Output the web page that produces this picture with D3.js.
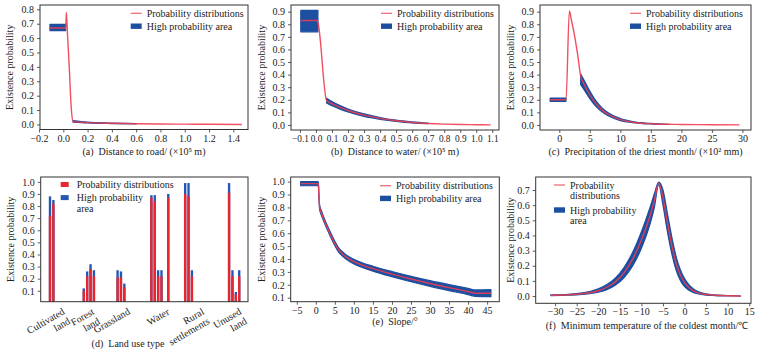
<!DOCTYPE html>
<html><head><meta charset="utf-8">
<script src="https://cdn.jsdelivr.net/npm/d3@7"></script>
<style>body{margin:0;background:#fff}svg{display:block}</style>
</head><body><svg id="c" width="758" height="355"></svg>
<script>
// ---------- DATA ----------
// (a) Distance to road
const roadX  = [-0.11, 0.02, 0.025, 0.035, 0.05, 0.065, 0.08, 0.1, 0.2, 0.4, 0.6, 0.8, 1.0, 1.2, 1.47];
const roadP  = [0.67, 0.67, 0.78, 0.62, 0.38, 0.12, 0.022, 0.018, 0.013, 0.008, 0.005, 0.003, 0.002, 0.001, 0.0];
const roadBandX  = [-0.11, 0.02, null, 0.08, 0.2, 0.4, 0.6];
const roadBandLo = [0.652, 0.652, null, 0.016, 0.010, 0.006, 0.004];
const roadBandHi = [0.695, 0.695, null, 0.026, 0.016, 0.010, 0.006];
// (b) Distance to water
const waterX = [-0.095, 0.005, 0.012, 0.066, 0.1, 0.15, 0.2, 0.3, 0.4, 0.5, 0.6, 0.7, 0.8, 0.9, 1.0, 1.09];
const waterP = [0.83, 0.83, 0.815, 0.195, 0.17, 0.14, 0.115, 0.078, 0.052, 0.033, 0.02, 0.012, 0.007, 0.004, 0.002, 0.001];
const waterBandX  = [-0.095, 0.012, null, 0.066, 0.1, 0.15, 0.2, 0.3, 0.4, 0.5, 0.6, 0.7];
const waterBandLo = [0.74, 0.74, null, 0.175, 0.153, 0.126, 0.103, 0.068, 0.045, 0.028, 0.016, 0.010];
const waterBandHi = [0.91, 0.91, null, 0.212, 0.186, 0.154, 0.127, 0.088, 0.059, 0.038, 0.024, 0.014];
// (c) Precipitation of the driest month
const precX = [-1.5, 1.1, 1.65, 2.0, 2.5, 3.0, 3.5, 4, 5, 6, 7, 8, 9, 10, 12, 15, 20, 25, 29.5];
const precP = [0.2, 0.2, 0.905, 0.83, 0.71, 0.56, 0.39, 0.33, 0.24, 0.17, 0.12, 0.085, 0.06, 0.042, 0.022, 0.01, 0.004, 0.002, 0.001];
const precBandX  = [-1.5, 1.1, null, 3.5, 4, 5, 6, 7, 8, 10, 12, 15, 18];
const precBandLo = [0.188, 0.188, null, 0.32, 0.285, 0.21, 0.148, 0.104, 0.073, 0.035, 0.018, 0.008, 0.004];
const precBandHi = [0.214, 0.214, null, 0.405, 0.36, 0.27, 0.192, 0.136, 0.097, 0.05, 0.027, 0.012, 0.005];
// (d) Land use type
const landCodes = [11, 12, 21, 22, 23, 24, 31, 32, 33, 41, 42, 43, 44, 46, 51, 52, 53, 64, 65, 66, 67];
const landProb  = [0.72, 0.82, 0.10, 0.22, 0.28, 0.22, 0.21, 0.21, 0.13, 0.87, 0.84, 0.22, 0.22, 0.87, 0.90, 0.88, 0.22, 0.91, 0.22, 0.07, 0.22];
const landHigh  = [0.88, 0.85, 0.12, 0.26, 0.32, 0.27, 0.27, 0.26, 0.16, 0.89, 0.89, 0.27, 0.27, 0.90, 0.99, 0.99, 0.27, 0.99, 0.27, 0.09, 0.27];
const landLabels = [["Cultivated","land"],["Forest","land"],["Grassland"],["Water"],["Rural","settlements"],["Unused","land"]];
const landLabelRight = [17.5, 26.3, 35.2, 47.0, 58.8, 69.8];
// (e) Slope
const slopeX = [-4, 0.66, 0.8, 1, 1.5, 2, 3, 4, 5, 6, 7, 8, 10, 12, 15, 20, 25, 30, 35, 40, 42, 46];
const slopeP = [0.985, 0.985, 0.9, 0.8, 0.755, 0.715, 0.645, 0.58, 0.52, 0.47, 0.44, 0.415, 0.38, 0.355, 0.325, 0.283, 0.245, 0.21, 0.178, 0.148, 0.135, 0.135];
const slopeBandX  = [-4, 0.66, 0.8, 1, 1.5, 2, 3, 4, 5, 6, 7, 8, 10, 12, 15, 20, 25, 30, 35, 40, 42, 46];
const slopeBandLo = [0.968, 0.968, 0.88, 0.782, 0.737, 0.698, 0.628, 0.563, 0.503, 0.453, 0.423, 0.398, 0.362, 0.337, 0.306, 0.263, 0.224, 0.188, 0.155, 0.124, 0.11, 0.108];
const slopeBandHi = [1.0, 1.0, 0.92, 0.818, 0.773, 0.732, 0.662, 0.597, 0.537, 0.487, 0.457, 0.432, 0.398, 0.373, 0.344, 0.303, 0.266, 0.232, 0.201, 0.172, 0.16, 0.162];
// (f) Minimum temperature of the coldest month
const tempX = [-31, -27, -25, -22, -20, -18, -16, -14, -12, -10, -8, -7, -6, -5, -4, -3, -2, -1, 0, 1, 2, 3, 5, 7, 10, 13];
const tempP = [0.005, 0.008, 0.012, 0.022, 0.035, 0.058, 0.095, 0.155, 0.245, 0.37, 0.53, 0.63, 0.745, 0.65, 0.49, 0.34, 0.22, 0.14, 0.088, 0.056, 0.036, 0.023, 0.01, 0.005, 0.002, 0.0];
const tempBandLo = [0.003, 0.005, 0.008, 0.015, 0.025, 0.042, 0.072, 0.122, 0.2, 0.315, 0.475, 0.585, 0.735, 0.6, 0.43, 0.285, 0.175, 0.105, 0.062, 0.038, 0.024, 0.015, 0.006, 0.003, 0.001, 0.0];
const tempBandHi = [0.007, 0.011, 0.016, 0.03, 0.047, 0.076, 0.12, 0.19, 0.29, 0.425, 0.585, 0.675, 0.752, 0.7, 0.55, 0.395, 0.265, 0.175, 0.115, 0.075, 0.048, 0.031, 0.014, 0.007, 0.003, 0.0];

// tick values
const roadTicks  = [-0.2, 0, 0.2, 0.4, 0.6, 0.8, 1.0, 1.2, 1.4];
const waterTicks = [-0.1, 0, 0.1, 0.2, 0.3, 0.4, 0.5, 0.6, 0.7, 0.8, 0.9, 1.0, 1.1];
const precTicks  = [0, 5, 10, 15, 20, 25, 30];
const slopeTicks = [-5, 0, 5, 10, 15, 20, 25, 30, 35, 40, 45];
const tempTicks  = [-30, -25, -20, -15, -10, -5, 0, 5, 10, 15];
const yTicks08 = [0, 0.1, 0.2, 0.3, 0.4, 0.5, 0.6, 0.7, 0.8];
const yTicks09 = [0, 0.1, 0.2, 0.3, 0.4, 0.5, 0.6, 0.7, 0.8, 0.9];
const yTicks10 = [0.1, 0.2, 0.3, 0.4, 0.5, 0.6, 0.7, 0.8, 0.9, 1.0];
const yTicks07 = [0, 0.1, 0.2, 0.3, 0.4, 0.5, 0.6, 0.7];

// ---------- DRAWING ----------
const SERIF = "'Liberation Serif','Times New Roman',serif";
const RED = "#ef3d50", BLUE = "#1d4fa1", BAR_RED = "#e8262f", BAR_BLUE = "#2457b3", INK = "#222";
const svg = d3.select("#c");

function frameAxes(g, o, x, y, xfmt) {
  const ax = g.append("g").attr("transform", `translate(0,${o.b})`)
    .call(d3.axisBottom(x).tickValues(o.xt).tickFormat(xfmt).tickSize(3).tickPadding(2));
  const ay = g.append("g").attr("transform", `translate(${o.l},0)`)
    .call(d3.axisLeft(y).tickValues(o.yt).tickFormat(d3.format(".1f")).tickSize(3).tickPadding(3));
  [ax, ay].forEach(a => {
    a.attr("font-family", SERIF).attr("font-size", 10);
    a.select(".domain").remove();
    a.selectAll("text").attr("fill", INK);
    a.selectAll("line").attr("stroke", "#333").attr("stroke-width", 0.8);
  });
  if (o.xtfs) ax.attr("font-size", o.xtfs);
  g.append("text").attr("transform", `translate(${o.yl},${(o.t + o.b) / 2}) rotate(-90)`)
    .attr("text-anchor", "middle").attr("dominant-baseline", "central")
    .attr("font-family", SERIF).attr("font-size", 10).attr("fill", INK).text("Existence probability");
  g.append("text").attr("x", o.xlx).attr("y", o.xly).attr("text-anchor", "middle")
    .attr("dominant-baseline", "central").attr("font-family", SERIF).attr("font-size", 10)
    .attr("fill", INK).attr("xml:space", "preserve").text(o.xlabel);
}
function frameRect(g, o) {
  g.append("rect").attr("x", o.l).attr("y", o.t).attr("width", o.r - o.l).attr("height", o.b - o.t)
    .attr("fill", "none").attr("stroke", "#333").attr("stroke-width", 1);
}
function legend(g, lx, ly, lines1, ly2, lines2, patchFirst) {
  const txt = (tx, ty, t) => g.append("text").attr("x", tx).attr("y", ty).attr("dominant-baseline", "central")
      .attr("font-family", SERIF).attr("font-size", 10).attr("fill", INK).text(t);
  if (patchFirst) {
    g.append("rect").attr("x", lx).attr("y", ly - 2.5).attr("width", 8).attr("height", 5).attr("fill", BAR_RED);
    g.append("rect").attr("x", lx).attr("y", ly2 - 2.5).attr("width", 8).attr("height", 5).attr("fill", BAR_BLUE);
  } else {
    g.append("line").attr("x1", lx).attr("x2", lx + 11).attr("y1", ly).attr("y2", ly)
      .attr("stroke", RED).attr("stroke-width", 1.3).attr("opacity", 0.75);
    g.append("rect").attr("x", lx).attr("y", ly2 - 2.7).attr("width", 11).attr("height", 5.4).attr("fill", BLUE);
  }
  lines1.forEach((t, i) => txt(lx + 16, ly + i * 10.5, t));
  lines2.forEach((t, i) => txt(lx + 16, ly2 + i * 10.5, t));
}
function curvePanel(o) {
  const g = svg.append("g");
  const x = d3.scaleLinear().domain(o.xd).range([o.l, o.r]);
  const y = d3.scaleLinear().domain(o.yd).range([o.b, o.t]);
  frameAxes(g, o, x, y, o.xfmt);
  const band = o.bx.map((v, i) => ({ x: v, lo: o.blo[i], hi: o.bhi[i] }));
  g.append("path").datum(band)
    .attr("d", d3.area().defined(d => d.x !== null).curve(d3.curveMonotoneX)
      .x(d => x(d.x)).y0(d => y(d.lo)).y1(d => y(d.hi)))
    .attr("fill", BLUE).attr("stroke", BLUE).attr("stroke-width", 1.2).attr("stroke-linejoin", "round");
  const line = o.lx.map((v, i) => ({ x: v, y: o.ly[i] }));
  g.append("path").datum(line)
    .attr("d", d3.line().curve(d3.curveMonotoneX).x(d => x(d.x)).y(d => y(d.y)))
    .attr("fill", "none").attr("stroke", RED).attr("stroke-width", 1.4).attr("opacity", 0.9);
  frameRect(g, o);
  legend(g, o.legX, o.legY1, o.leg1, o.legY2, o.leg2, false);
}

const f1 = d3.format(".1f"), fd = d3.format("d");

curvePanel({ l: 40, r: 248, t: 5, b: 129.5, xd: [-0.192, 1.521], yd: [-0.035, 0.83],
  xt: roadTicks, yt: yTicks08, xfmt: f1, yl: 9.5, xlx: 144, xly: 151.7,
  xlabel: "(a)  Distance to road/ (×10⁵ m)",
  lx: roadX, ly: roadP, bx: roadBandX, blo: roadBandLo, bhi: roadBandHi,
  legX: 130.7, legY1: 13.3, leg1: ["Probability distributions"], legY2: 26.2, leg2: ["High probability area"] });

curvePanel({ l: 291, r: 499, t: 5, b: 130, xd: [-0.156, 1.142], yd: [-0.04, 0.953],
  xt: waterTicks, yt: yTicks09, xfmt: f1, xtfs: 9.3, yl: 261.5, xlx: 395, xly: 151.7,
  xlabel: "(b)  Distance to water/ (×10⁵ m)",
  lx: waterX, ly: waterP, bx: waterBandX, blo: waterBandLo, bhi: waterBandHi,
  legX: 381, legY1: 13.3, leg1: ["Probability distributions"], legY2: 26.2, leg2: ["High probability area"] });

curvePanel({ l: 540, r: 751, t: 5, b: 130, xd: [-3.16, 31.4], yd: [-0.04, 0.953],
  xt: precTicks, yt: yTicks09, xfmt: fd, yl: 510, xlx: 645.5, xly: 151.7,
  xlabel: "(c)  Precipitation of the driest month/ (×10² mm)",
  lx: precX, ly: precP, bx: precBandX, blo: precBandLo, bhi: precBandHi,
  legX: 630, legY1: 13.3, leg1: ["Probability distributions"], legY2: 26.2, leg2: ["High probability area"] });

curvePanel({ l: 290.7, r: 499.3, t: 177, b: 301.7, xd: [-6.6, 48.2], yd: [0.069, 1.036],
  xt: slopeTicks, yt: yTicks10, xfmt: fd, yl: 261.5, xlx: 395, xly: 321,
  xlabel: "(e)  Slope/°",
  lx: slopeX, ly: slopeP, bx: slopeBandX, blo: slopeBandLo, bhi: slopeBandHi,
  legX: 380, legY1: 185.7, leg1: ["Probability distributions"], legY2: 198.4, leg2: ["High probability area"] });

curvePanel({ l: 535.7, r: 751, t: 177, b: 303.3, xd: [-34.5, 15.4], yd: [-0.048, 0.786],
  xt: tempTicks, yt: yTicks07, xfmt: fd, yl: 510, xlx: 647, xly: 325,
  xlabel: "(f)  Minimum temperature of the coldest month/℃",
  lx: tempX, ly: tempP, bx: tempX, blo: tempBandLo, bhi: tempBandHi,
  legX: 554, legY1: 185, leg1: ["Probability", "distributions"], legY2: 210, leg2: ["High probability", "area"] });

// (d) bar panel
(function () {
  const o = { l: 40.7, r: 248, t: 177, b: 301.7, xd: [8.25, 69.6], yd: [0.01, 1.04], yt: yTicks10, xt: [],
    yl: 10, xlx: 128, xly: 343, xlabel: "(d)  Land use type" };
  const g = svg.append("g");
  const x = d3.scaleLinear().domain(o.xd).range([o.l, o.r]);
  const y = d3.scaleLinear().domain(o.yd).range([o.b, o.t]);
  frameAxes(g, o, x, y, fd);
  const w = x(0.7) - x(0);
  g.append("g").selectAll("rect").data(landCodes).join("rect")
    .attr("x", d => x(d) - w / 2).attr("width", w)
    .attr("y", (d, i) => y(landHigh[i])).attr("height", (d, i) => o.b - y(landHigh[i]))
    .attr("fill", BAR_BLUE);
  g.append("g").selectAll("rect").data(landCodes).join("rect")
    .attr("x", d => x(d) - w / 2).attr("width", w)
    .attr("y", (d, i) => y(landProb[i])).attr("height", (d, i) => o.b - y(landProb[i]))
    .attr("fill", BAR_RED);
  frameRect(g, o);
  legend(g, 60.7, 184.5, ["Probability distributions"], 197.6, ["High probability", "area"], true);
  landLabels.forEach((lines, i) => {
    const lg = g.append("g");
    const t = lg.append("text").attr("transform", "rotate(-30)")
      .attr("font-family", SERIF).attr("font-size", 10).attr("fill", INK).attr("text-anchor", "end");
    lines.forEach((s, j) => t.append("tspan").attr("x", 0).attr("dy", j === 0 ? 0 : "1.1em").text(s));
    const bb = lg.node().getBBox();
    const rx = x(landLabelRight[i]);
    lg.attr("transform", `translate(${rx - (bb.x + bb.width)},${o.b + 4 - bb.y})`);
  });
})();
</script>
</body></html>
